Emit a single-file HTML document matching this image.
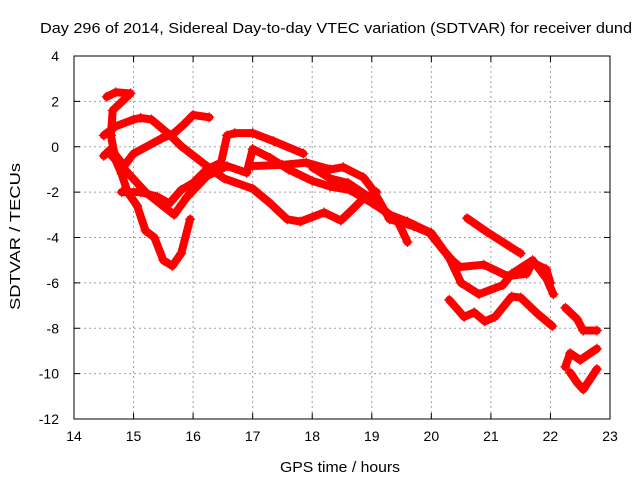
<!DOCTYPE html>
<html><head><meta charset="utf-8"><style>
body{margin:0;background:#fff}
svg{display:block;font-family:"Liberation Sans",sans-serif}
</style></head><body>
<svg id="chart" width="640" height="480" viewBox="0 0 640 480">
<rect width="640" height="480" fill="#fff"/>
<text x="40" y="33" font-size="14.5" textLength="592" lengthAdjust="spacingAndGlyphs">Day 296 of 2014, Sidereal Day-to-day VTEC variation (SDTVAR) for receiver dund</text>
<text x="280" y="472" font-size="14.5" textLength="120" lengthAdjust="spacingAndGlyphs">GPS time / hours</text>
<text transform="translate(20,310) rotate(-90)" font-size="14.5" textLength="147" lengthAdjust="spacingAndGlyphs">SDTVAR / TECUs</text>
<g id="grid"></g><g id="ticks"></g><g id="series"></g>
<rect x="74" y="56" width="536" height="363" fill="none" stroke="#000" stroke-width="1"/>
</svg>
<script>
const xTicks=[14,15,16,17,18,19,20,21,22,23];
const yTicks=[4,2,0,-2,-4,-6,-8,-10,-12];
const track1h=[14.55,14.7,14.95,14.65,14.62,14.7,14.8,14.9,15.06,15.2,15.35,15.5,15.65,15.8,15.95];
const track1v=[2.2,2.4,2.35,1.6,0.5,-0.6,-1.2,-2.0,-2.6,-3.7,-4.0,-5.0,-5.25,-4.7,-3.2];
const track2h=[14.5,14.7,15.0,15.12,15.3,15.63,15.8,16.23,16.52,17.0,17.3,17.58,17.8,18.2,18.48,18.7,18.85,19.08];
const track2v=[0.5,0.9,1.2,1.27,1.2,0.47,0.03,-0.85,-1.4,-1.85,-2.5,-3.2,-3.3,-2.9,-3.25,-2.7,-2.3,-2.0];
const track3h=[14.5,14.62,14.84,15.0,15.46,15.68,15.85,16.0,16.27];
const track3v=[-0.4,-0.1,-0.85,-0.3,0.35,0.6,1.0,1.4,1.3];
const track4h=[14.8,15.12,15.4,15.6,15.8,16.0,16.23,16.47,16.57,16.7,17.0,17.35,17.85];
const track4v=[-2.0,-2.0,-2.2,-2.5,-1.9,-1.6,-1.0,-0.7,0.5,0.6,0.6,0.25,-0.3];
const track5h=[14.6,14.85,15.2,15.68,15.9,16.23,16.57,16.9,17.0,17.3,17.6,18.0,18.3,18.63,19.02,19.42,19.6];
const track5v=[-0.3,-1.0,-2.0,-3.0,-2.2,-1.3,-0.85,-1.15,-0.1,-0.5,-1.0,-1.5,-1.75,-1.9,-2.5,-3.2,-4.2];
const track6h=[17.0,17.5,17.9,18.3,18.52,18.86,19.02,19.3,19.7,19.97,20.2,20.35,20.48,20.88,21.28,21.6,21.7,21.93,22.0];
const track6v=[-0.85,-0.8,-0.7,-1.0,-0.9,-1.35,-1.9,-3.2,-3.5,-3.8,-4.55,-5.0,-5.3,-5.2,-5.7,-5.6,-5.1,-5.4,-6.0];
const track7h=[18.0,18.3,18.6,19.0,19.3,19.6,20.0,20.3,20.5,20.8,21.2,21.35,21.7,21.93,22.05];
const track7v=[-0.9,-1.4,-1.6,-2.3,-3.0,-3.3,-3.8,-4.9,-6.0,-6.5,-6.1,-5.6,-5.0,-5.8,-6.5];
const track8h=[20.6,20.93,21.32,21.5];
const track8v=[-3.15,-3.75,-4.4,-4.7];
const track9h=[20.3,20.55,20.72,20.9,21.07,21.35,21.5,21.78,22.03];
const track9v=[-6.75,-7.5,-7.3,-7.7,-7.5,-6.6,-6.65,-7.35,-7.9];
const track10h=[22.25,22.45,22.55,22.78];
const track10v=[-7.1,-7.6,-8.1,-8.1];
const track11h=[22.25,22.33,22.5,22.78];
const track11v=[-9.7,-9.1,-9.4,-8.9];
const track12h=[22.33,22.45,22.55,22.78];
const track12v=[-9.95,-10.4,-10.7,-9.8];
const tracks=[[track1h,track1v],[track2h,track2v],[track3h,track3v],[track4h,track4v],[track5h,track5v],[track6h,track6v],[track7h,track7v],[track8h,track8v],[track9h,track9v],[track10h,track10v],[track11h,track11v],[track12h,track12v]];
const X0=74,X1=610,Y0=419,Y1=56;
const sx=h=>X0+(h-14)/(23-14)*(X1-X0);
const sy=v=>Y0-(v+12)/(4+12)*(Y0-Y1);
const NS="http://www.w3.org/2000/svg";
const grid=document.getElementById('grid'),ticks=document.getElementById('ticks'),ser=document.getElementById('series');
function mk(tag,at,parent){const e=document.createElementNS(NS,tag);for(const k in at)e.setAttribute(k,at[k]);parent.appendChild(e);return e;}
xTicks.forEach(t=>{const x=sx(t);
 if(t>14&&t<23){const g=mk('line',{x1:x,x2:x,y1:Y1,y2:Y0,stroke:'#a0a0a0','stroke-dasharray':'2,3'},grid);
 
 }
 const a=mk('line',{x1:x,x2:x,y1:Y0,y2:Y0-6,stroke:'#000'},ticks);
 
 
 const b=mk('line',{x1:x,x2:x,y1:Y1,y2:Y1+6,stroke:'#000'},ticks);
 
 
 const l=mk('text',{x:x,y:441,'font-size':14,'text-anchor':'middle'},ticks);l.textContent=t;
 
 });
yTicks.forEach(t=>{const y=sy(t);
 if(t>-12&&t<4){const g=mk('line',{x1:X0,x2:X1,y1:y,y2:y,stroke:'#a0a0a0','stroke-dasharray':'2,3'},grid);
 
 }
 const a=mk('line',{x1:X0,x2:X0+6,y1:y,y2:y,stroke:'#000'},ticks);
 
 
 const b=mk('line',{x1:X1,x2:X1-6,y1:y,y2:y,stroke:'#000'},ticks);
 
 
 const l=mk('text',{x:59,y:y+5,'font-size':14,'text-anchor':'end'},ticks);l.textContent=t;
 
 });
tracks.forEach((tr,i)=>{const [hs,vs]=tr;
 const pts=hs.map((h,j)=>sx(h).toFixed(1)+','+sy(vs[j]).toFixed(1)).join(' ');
 const p=mk('polyline',{points:pts,fill:'none',stroke:'#ff0000','stroke-width':8,'stroke-linejoin':'round','stroke-linecap':'round'},ser);
 
 
 hs.forEach((h,j)=>{const x=sx(h),y=sy(vs[j]);
  const m=mk('path',{d:`M${x-5},${y}H${x+5}M${x},${y-5}V${y+5}`,stroke:'#ff0000','stroke-width':1.2},ser);
  
  });});
</script>
</body></html>
